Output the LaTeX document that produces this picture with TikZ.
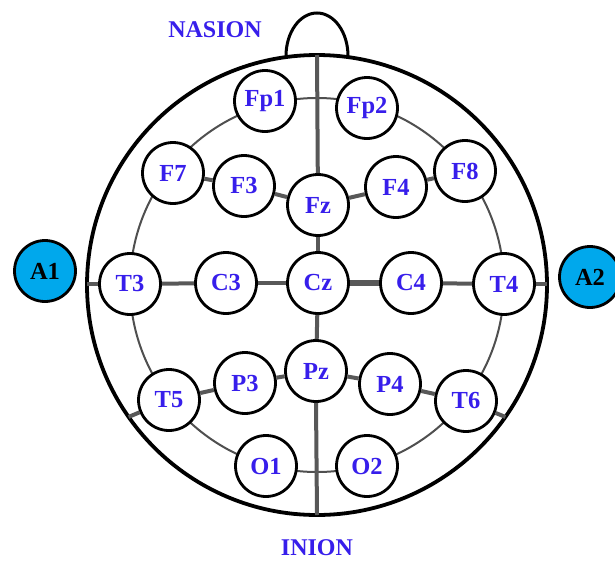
\documentclass[tikz,border=0pt]{standalone}
\usepackage{fontspec}
\setmainfont{Liberation Serif}
\usetikzlibrary{calc}
\definecolor{labelblue}{RGB}{55,30,235}
\definecolor{earblue}{RGB}{0,168,236}
\definecolor{linkgray}{RGB}{88,88,88}
\begin{document}
\begin{tikzpicture}[x=1pt,y=-1pt,
  electrode/.style={circle, draw=black, line width=2.8pt, fill=white,
    minimum size=61pt, inner sep=0pt, text=labelblue,
    font=\fontsize{24.5}{28}\selectfont\bfseries},
  ear/.style={electrode, fill=earblue, text=black},
  link/.style={draw=linkgray, line width=4pt},
  thinlink/.style={draw=linkgray!90!black, line width=2pt},
  landmark/.style={text=labelblue, font=\fontsize{24}{28}\selectfont\bfseries},
  headline/.style={draw=black, line width=3.8pt},
]
\useasboundingbox (0,0) rectangle (615,560);

% head outline and nose
\coordinate (c) at (317,285);
\draw[headline] (c) circle[radius=230pt];
\draw[draw=black, line width=3pt] (286,56)
  arc[start angle=180, end angle=0, x radius=31pt, y radius=43pt];

% 10-20 ring through the outer electrodes
\draw[thinlink] (c) circle[radius=187pt];

% reference points on the scalp outline
\coordinate (top) at (317,55);
\coordinate (bottom) at (317,515);
\coordinate (left) at (87,284);
\coordinate (right) at (547,284);
\coordinate (lowleft) at ($(c)+(215:230pt)$);
\coordinate (lowright) at ($(c)+(-35:230pt)$);

% electrodes
\node[electrode] (Fp1) at (265,101) {Fp1};
\node[electrode] (Fp2) at (367,108) {Fp2};
\node[electrode] (F7)  at (173,173) {F7};
\node[electrode] (F3)  at (244,186) {F3};
\node[electrode] (Fz)  at (318,205) {Fz};
\node[electrode] (F4)  at (396,187) {F4};
\node[electrode] (F8)  at (465,171) {F8};
\node[electrode] (T3)  at (130,284) {T3};
\node[electrode] (C3)  at (226,283) {C3};
\node[electrode] (Cz)  at (318,283) {Cz};
\node[electrode] (C4)  at (411,283) {C4};
\node[electrode] (T4)  at (504,284) {T4};
\node[electrode] (T5)  at (169,400) {T5};
\node[electrode] (P3)  at (245,383) {P3};
\node[electrode] (Pz)  at (316,371) {Pz};
\node[electrode] (P4)  at (390,384) {P4};
\node[electrode] (T6)  at (466,401) {T6};
\node[electrode] (O1)  at (266,466) {O1};
\node[electrode] (O2)  at (367,466) {O2};

% ear references
\node[ear] (A1) at (45,271) {A1};
\node[ear] (A2) at (590,277) {A2};

% landmarks
\node[landmark] (nasion) at (215,30) {NASION};
\node[landmark] (inion) at (317,548) {INION};

% midline
\draw[link] (top) -- (Fz);
\draw[link] (Fz) -- (Cz);
\draw[link] (Cz) -- (Pz);
\draw[link] (Pz.south) -- (bottom);

% coronal line
\draw[link] (left) -- (T3);
\draw[link] (T3) -- (C3);
\draw[link] (C3) -- (Cz);
\draw[draw=linkgray, line width=5.5pt] (Cz) -- (C4);
\draw[link] (C4) -- (T4);
\draw[link] (T4) -- (right);

% frontal chain
\draw[link] (F7) -- (F3);
\draw[link] (F3) -- (Fz);
\draw[link] (Fz) -- (F4);
\draw[link] (F4) -- (F8);

% parietal chain
\draw[link] (lowleft) -- (T5);
\draw[link] (T5) -- (P3);
\draw[link] (P3) -- (Pz);
\draw[link] (Pz) -- (P4);
\draw[link] (P4) -- (T6);
\draw[link] (T6) -- (lowright);
\end{tikzpicture}
\end{document}
